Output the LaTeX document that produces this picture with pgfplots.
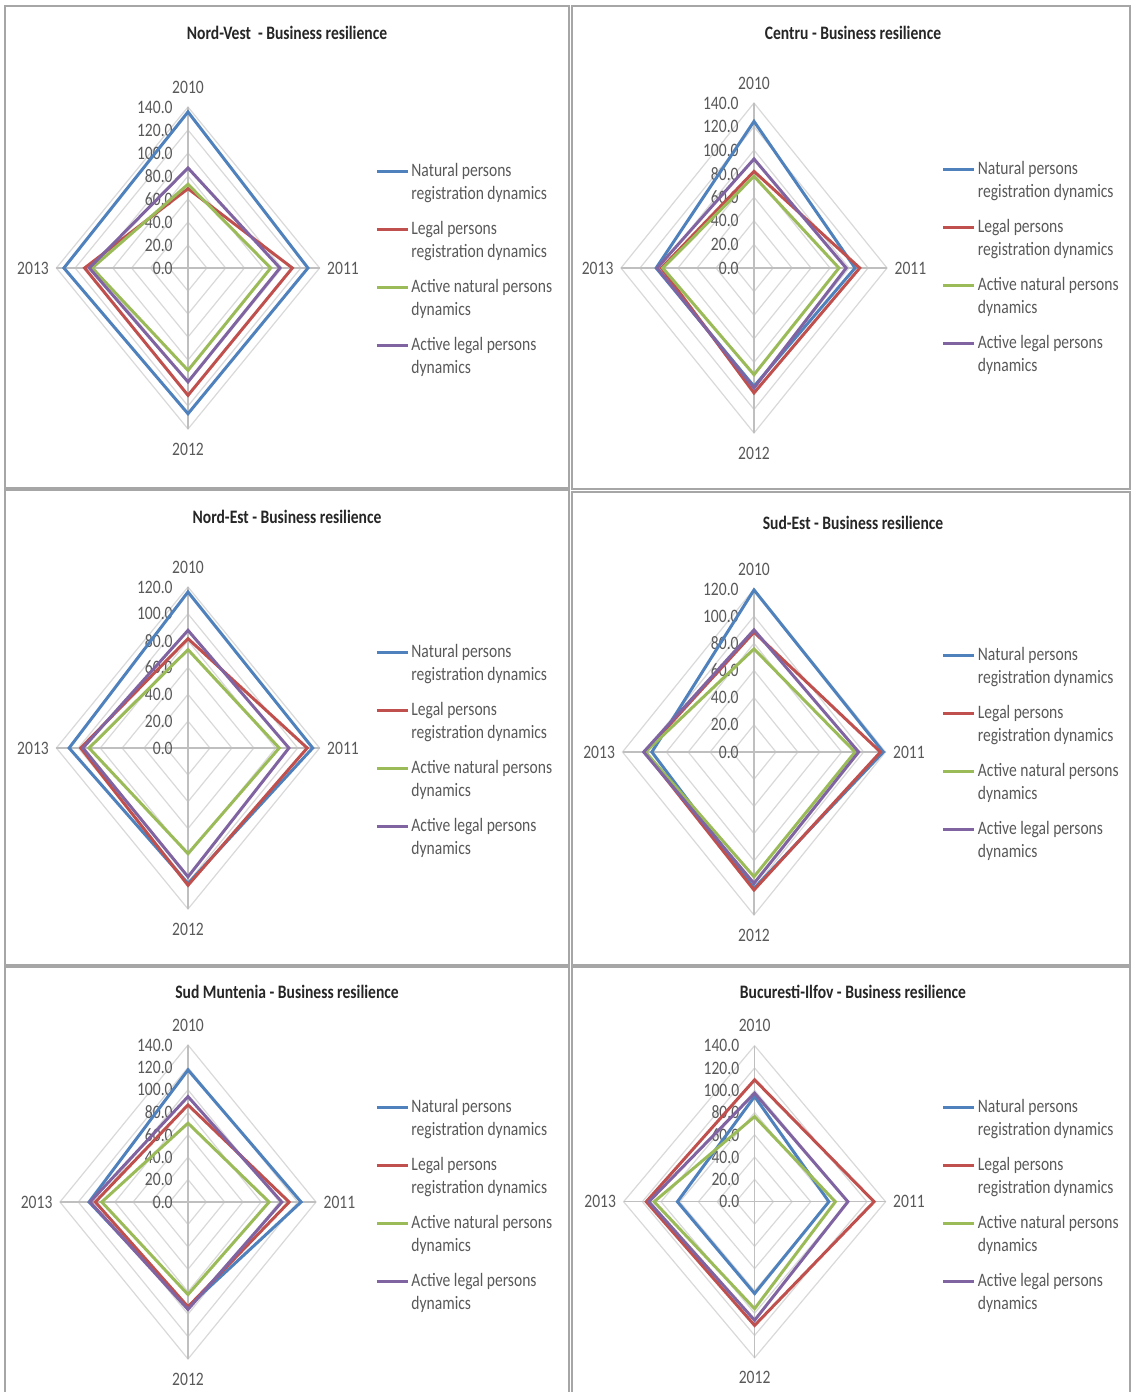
\documentclass[border=0pt]{standalone}
\usepackage{pgfplots}
\pgfplotsset{compat=1.18}
\usepackage{fontspec}
\setmainfont{Carlito}[FakeStretch=0.82]
\definecolor{cNP}{HTML}{4F81BD}
\definecolor{cLP}{HTML}{C0504D}
\definecolor{cANP}{HTML}{9BBB59}
\definecolor{cALP}{HTML}{8064A2}
\definecolor{ring}{HTML}{D9D9D9}
\definecolor{spoke}{HTML}{BFBFBF}
\definecolor{txt}{HTML}{595959}
\definecolor{frame}{HTML}{A6A6A6}
\newcommand\chartfont{\fontsize{9.5}{11.5}\selectfont}
\pgfkeys{/pgf/number format/assume math mode=true}
\pgfplotsset{
  radar/.style n args={7}{
    at={(#1*0.5pt,-#2*0.5pt)}, anchor=center,
    scale only axis, width=#3pt, height=#4pt,
    xmin=-#5, xmax=#5, ymin=-#5, ymax=#5,
    hide axis, clip=false,
    legend cell align=left,
    legend style={at={(axis description cs:#6-0.0114,#7+0.0124)}, anchor=north west,
      draw=none, fill=none, font=\chartfont\color{txt},
      cells={align=left, inner sep=0pt}, row sep=5.35pt, inner sep=0pt, column sep=-1pt},
    legend image code/.code={\draw[##1] (0pt,5.75pt) -- (15.5pt,5.75pt);},
    every axis plot/.append style={line width=1.5pt, line join=miter, no markers},
  }
}
\newcommand\radargrid[1]{%
  \pgfplotsinvokeforeach{20,40,...,#1}{%
    \addplot[ring, line width=0.6pt, forget plot] coordinates {(0,##1)(##1,0)(0,-##1)(-##1,0)} -- cycle;}
  \addplot[spoke, line width=0.6pt, forget plot] coordinates {(0,-#1)(0,#1)};
  \addplot[spoke, line width=0.6pt, forget plot] coordinates {(-#1,0)(#1,0)};
  \pgfplotsinvokeforeach{0,20,...,#1}{%
    \node[anchor=east, font=\chartfont, text=txt, inner sep=0pt, xshift=-7.5pt] at (axis cs:0,##1)
      {\pgfmathprintnumber[fixed,fixed zerofill,precision=1]{##1}};}
  \node[font=\chartfont, text=txt, yshift=10pt] at (axis cs:0,#1) {2010};
  \node[font=\chartfont, text=txt, xshift=11.7pt] at (axis cs:#1,0) {2011};
  \node[font=\chartfont, text=txt, yshift=-10pt] at (axis cs:0,-#1) {2012};
  \node[font=\chartfont, text=txt, xshift=-11.7pt] at (axis cs:-#1,0) {2013};
}
\newcommand\legs{%
  \addlegendentry{Natural persons\\registration dynamics}
  \addlegendentry{Legal persons\\registration dynamics}
  \addlegendentry{Active natural persons\\dynamics}
  \addlegendentry{Active legal persons\\dynamics}
}
\begin{document}
\begin{tikzpicture}[x=0.5pt,y=-0.5pt]
\path[use as bounding box, fill=white] (0,0) rectangle (1132,1392);
\begin{scope}[frame, line width=1pt]
\draw (5,6) rectangle (569,488);
\draw (572,6) rectangle (1130,489);
\draw (5,490) rectangle (569,965);
\draw (572,492) rectangle (1130,965);
\draw (5,1400) -- (5,967) -- (569,967) -- (569,1400);
\draw (572,1400) -- (572,967) -- (1130,967) -- (1130,1400);
\end{scope}
\begin{scope}[font=\chartfont\bfseries, text=black!85]
\node at (287,33) {Nord-Vest\ \ - Business resilience};
\node at (853,33) {Centru - Business resilience};
\node at (287,517) {Nord-Est - Business resilience};
\node at (853,523) {Sud-Est - Business resilience};
\node at (287,992) {Sud Muntenia - Business resilience};
\node at (853,992) {Bucuresti-Ilfov - Business resilience};
\end{scope}
% Nord-Vest
\begin{axis}[radar={188}{268}{131.6}{161}{140}{1.2219}{0.8261}]
\radargrid{140}
\addplot[cNP]  coordinates {(0,135.7)(127.6,0)(0,-126.7)(-132,0)} -- cycle;
\addplot[cLP]  coordinates {(0,69)(111,0)(0,-110.7)(-110,0)} -- cycle;
\addplot[cANP] coordinates {(0,72.8)(88,0)(0,-89)(-102,0)} -- cycle;
\addplot[cALP] coordinates {(0,87)(97.8,0)(0,-99)(-105,0)} -- cycle;
\legs
\end{axis}
% Centru
\begin{axis}[radar={754}{268}{133}{165}{140}{1.2162}{0.8242}]
\radargrid{140}
\addplot[cNP]  coordinates {(0,124.4)(106.4,0)(0,-100.4)(-103,0)} -- cycle;
\addplot[cLP]  coordinates {(0,82)(111.3,0)(0,-106)(-97.4,0)} -- cycle;
\addplot[cANP] coordinates {(0,77.8)(89.4,0)(0,-90.5)(-96,0)} -- cycle;
\addplot[cALP] coordinates {(0,92.5)(97,0)(0,-101.8)(-101.9,0)} -- cycle;
\legs
\end{axis}
% Nord-Est
\begin{axis}[radar={188}{748}{131.6}{161}{120}{1.2219}{0.8230}]
\radargrid{120}
\addplot[cNP]  coordinates {(0,116.3)(113.7,0)(0,-101)(-108.4,0)} -- cycle;
\addplot[cLP]  coordinates {(0,81.5)(108.7,0)(0,-102.3)(-97.8,0)} -- cycle;
\addplot[cANP] coordinates {(0,73.3)(83.2,0)(0,-78.7)(-90.2,0)} -- cycle;
\addplot[cALP] coordinates {(0,87.7)(92,0)(0,-96)(-95.8,0)} -- cycle;
\legs
\end{axis}
% Sud-Est
\begin{axis}[radar={754}{752}{131.5}{163}{120}{1.2243}{0.8221}]
\radargrid{120}
\addplot[cNP]  coordinates {(0,119.3)(118,0)(0,-100.4)(-93.2,0)} -- cycle;
\addplot[cLP]  coordinates {(0,88.2)(115.4,0)(0,-101.6)(-99.7,0)} -- cycle;
\addplot[cANP] coordinates {(0,75.9)(92.2,0)(0,-91.8)(-99,0)} -- cycle;
\addplot[cALP] coordinates {(0,89.9)(95.5,0)(0,-96.7)(-100.7,0)} -- cycle;
\legs
\end{axis}
% Sud Muntenia
\begin{axis}[radar={188}{1202}{128}{157}{140}{1.2422}{0.8280}]
\radargrid{140}
\addplot[cNP]  coordinates {(0,117.8)(123.7,0)(0,-93.5)(-108.2,0)} -- cycle;
\addplot[cLP]  coordinates {(0,86.6)(110.6,0)(0,-93.5)(-101.4,0)} -- cycle;
\addplot[cANP] coordinates {(0,70.3)(88.7,0)(0,-82.5)(-94.3,0)} -- cycle;
\addplot[cALP] coordinates {(0,94)(102.6,0)(0,-95.8)(-107,0)} -- cycle;
\legs
\end{axis}
% Bucuresti-Ilfov
\begin{axis}[radar={754.6}{1201.7}{131}{156}{140}{1.2248}{0.8292}]
\radargrid{140}
\addplot[cNP]  coordinates {(0,94.4)(79.4,0)(0,-82.4)(-82.5,0)} -- cycle;
\addplot[cLP]  coordinates {(0,109.4)(127.7,0)(0,-111)(-115.8,0)} -- cycle;
\addplot[cANP] coordinates {(0,76.4)(86.3,0)(0,-96)(-107.4,0)} -- cycle;
\addplot[cALP] coordinates {(0,97.4)(99.7,0)(0,-106.4)(-113,0)} -- cycle;
\legs
\end{axis}
\end{tikzpicture}
\end{document}
